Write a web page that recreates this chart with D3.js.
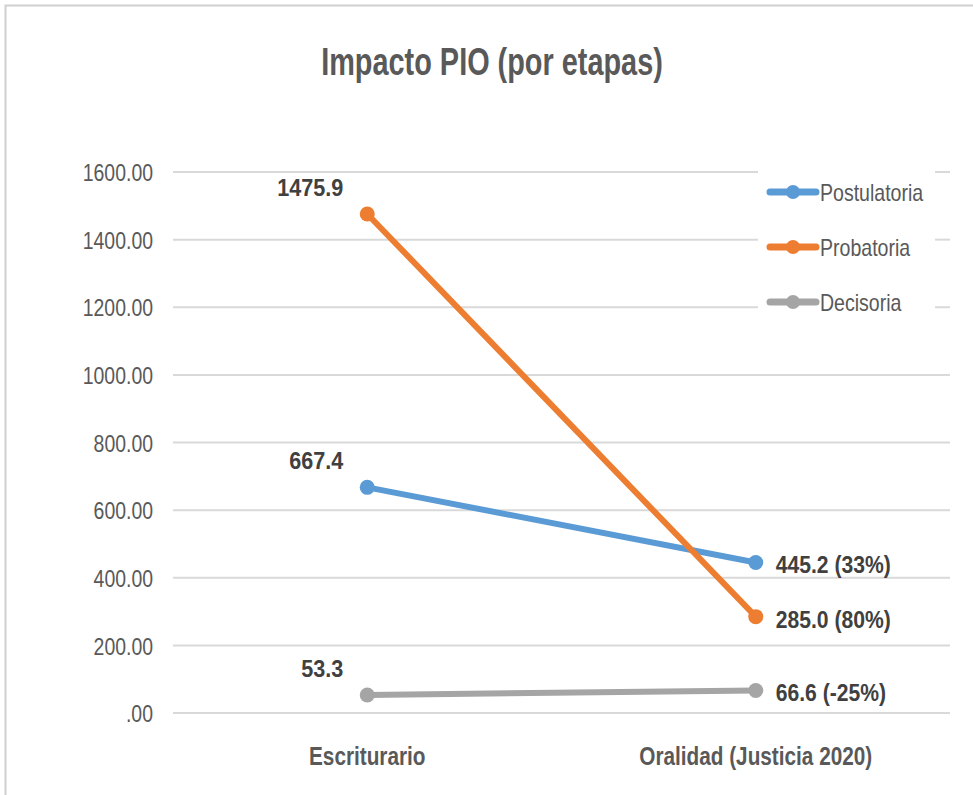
<!DOCTYPE html>
<html>
<head>
<meta charset="utf-8">
<script src="https://cdn.jsdelivr.net/npm/d3@7"></script>
<style>
  body { margin: 0; background: #fff; }
  text { font-family: "Liberation Sans", Arial, sans-serif; }
</style>
</head>
<body>
<svg></svg>
<script>
let width = 973, height = 795;

let svg = d3.select("svg")
    .attr("width", width)
    .attr("height", height);

// data
let categories = ["Escriturario", "Oralidad (Justicia 2020)"];
let seriesNames = ["Postulatoria", "Probatoria", "Decisoria"];
let postulatoria = [667.4, 445.2];
let probatoria = [1475.9, 285.0];
let decisoria = [53.3, 66.6];
let rightLabels = ["445.2 (33%)", "285.0 (80%)", "66.6 (-25%)"];
let yTicks = [0, 200, 400, 600, 800, 1000, 1200, 1400, 1600];
let colors = ["#5B9BD5", "#ED7D31", "#A5A5A5"];

let series = [postulatoria, probatoria, decisoria].map((v, i) => ({
    name: seriesNames[i], values: v, color: colors[i], right: rightLabels[i]
}));

// the original font is narrow, so text gets squeezed horizontally
function label(g, x, y, str, size, sx, opts) {
    opts = opts || {};
    return g.append("text")
        .attr("transform", "translate(" + x + "," + y + ") scale(" + sx + ",1)")
        .attr("text-anchor", opts.anchor || "start")
        .attr("font-size", size)
        .attr("font-weight", opts.weight || "normal")
        .attr("fill", opts.fill || "#595959")
        .text(str);
}

// chart border
svg.append("rect")
    .attr("x", 5.5).attr("y", 5.5)
    .attr("width", width + 10).attr("height", height + 10)
    .attr("fill", "none")
    .attr("stroke", "#d0d0d0")
    .attr("stroke-width", 2);

let x = d3.scaleBand().domain(categories).range([173, 950]);
let y = d3.scaleLinear().domain([0, 1600]).range([713, 172]);

// gridlines (legend covers part of the top ones)
let grid = svg.append("g");
yTicks.forEach(t => {
    let yy = y(t);
    let segs = (yy < 320) ? [[173, 758], [935, 950]] : [[173, 950]];
    segs.forEach(s => {
        grid.append("line")
            .attr("x1", s[0]).attr("x2", s[1])
            .attr("y1", yy).attr("y2", yy)
            .attr("stroke", "#d9d9d9")
            .attr("stroke-width", 2);
    });
});

// y axis labels
let yAxis = d3.axisLeft(y)
    .tickValues(yTicks)
    .tickSize(0)
    .tickPadding(0)
    .tickFormat(d => d === 0 ? ".00" : d3.format(".2f")(d));
svg.append("g")
    .attr("transform", "translate(153,1)")
    .call(yAxis)
    .call(g => g.select(".domain").remove())
    .selectAll("text")
    .attr("font-size", 24)
    .attr("fill", "#595959")
    .attr("font-family", "'Liberation Sans', Arial, sans-serif")
    .attr("transform", "scale(0.81,1)");

// x axis labels
let xAxis = d3.axisBottom(x).tickSize(0).tickPadding(0);
svg.append("g")
    .attr("transform", "translate(0,765)")
    .call(xAxis)
    .call(g => g.select(".domain").remove())
    .selectAll("text")
    .attr("dy", 0)
    .attr("font-size", 25)
    .attr("font-weight", "bold")
    .attr("fill", "#595959")
    .attr("font-family", "'Liberation Sans', Arial, sans-serif")
    .attr("transform", "scale(0.83,1)");

// title
label(svg, 492, 75, "Impacto PIO (por etapas)", 38, 0.76, { anchor: "middle", weight: "bold" });

let cx = c => x(c) + x.bandwidth() / 2;
let line = d3.line()
    .x((d, i) => cx(categories[i]))
    .y(d => y(d));

// lines and markers
series.forEach(s => {
    svg.append("path")
        .datum(s.values)
        .attr("d", line)
        .attr("fill", "none")
        .attr("stroke", s.color)
        .attr("stroke-width", 6)
        .attr("stroke-linecap", "round");
    svg.selectAll(null)
        .data(s.values)
        .enter()
        .append("circle")
        .attr("cx", (d, i) => cx(categories[i]))
        .attr("cy", d => y(d))
        .attr("r", 7.5)
        .attr("fill", s.color);
});

// data labels: left ones sit above-left of the point, right ones beside it
series.forEach(s => {
    label(svg, cx(categories[0]) - 24, y(s.values[0]) - 18, s.values[0].toFixed(1),
        24, 0.9, { anchor: "end", weight: "bold", fill: "#404040" });
    label(svg, cx(categories[1]) + 20, y(s.values[1]) + 11, s.right,
        24, 0.88, { weight: "bold", fill: "#404040" });
});

// legend
let legend = svg.append("g");
series.forEach((s, i) => {
    let ly = 192 + i * 55;
    legend.append("line")
        .attr("x1", 770).attr("x2", 816)
        .attr("y1", ly).attr("y2", ly)
        .attr("stroke", s.color)
        .attr("stroke-width", 7)
        .attr("stroke-linecap", "round");
    legend.append("circle")
        .attr("cx", 793).attr("cy", ly)
        .attr("r", 7)
        .attr("fill", s.color);
    label(legend, 820, ly + 9, s.name, 23, 0.85);
});
</script>
</body>
</html>
